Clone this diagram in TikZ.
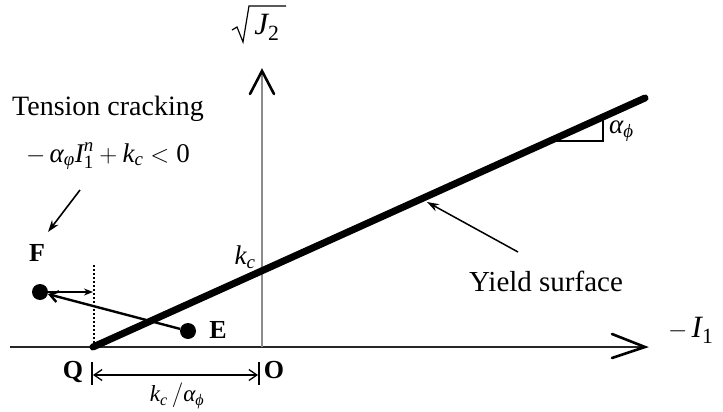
\documentclass[tikz,border=0pt]{standalone}
\usepackage{amsmath}
\usepackage{fontspec}
\setmainfont{Liberation Serif}
\usetikzlibrary{arrows.meta}
\newcommand{\iv}[1]{\text{\itshape #1}}
\begin{document}
\begin{tikzpicture}[x=1pt,y=-1pt,
  lbl/.style={font=\fontsize{27}{31}\selectfont, inner sep=0pt},
  bl/.style={font=\fontsize{26}{30}\selectfont\bfseries, inner sep=0pt},
  chev/.style={line width=2.6pt, line cap=round, line join=miter},
  dot/.style={circle, fill=black, inner sep=0pt, minimum size=16pt},
  axisline/.style={line width=1.3pt, black!85}]
\useasboundingbox (0,0) rectangle (723,412);
% axes
\coordinate (hs) at (10,347);
\coordinate (he) at (645,347);
\coordinate (vs) at (262,347);
\coordinate (ve) at (262,71);
\draw[axisline] (hs) -- (he);
\draw[line width=1.3pt, black!45] (vs) -- (ve);
\draw[chev] (612,334) -- (he) -- (612,358);
\draw[chev] (250,94) -- (ve) -- (274,94);
\node[lbl, font=\fontsize{31}{35}\selectfont] (yaxl) at (267,27) {$\iv{J}_{\text{2}}$};
\coordinate (r1) at (232,30);
\coordinate (r2) at (237,27);
\coordinate (r3) at (243,42);
\coordinate (r4) at (249,6);
\coordinate (r5) at (286,6);
\draw[line width=1.2pt, line join=miter] (r1) -- (r2) -- (r3) -- (r4) -- (r5);
\node[lbl, font=\fontsize{31}{35}\selectfont, anchor=west] (xaxl) at (668,330) {$-\,\iv{I}_{\text{1}}$};
% yield surface
\coordinate (Q) at (93,347);
\coordinate (Y) at (645,98);
\draw[line width=7pt, line cap=round] (Q) -- (Y);
\coordinate (t1) at (551,141);
\coordinate (t2) at (603,141);
\coordinate (t3) at (603,118);
\draw[line width=1.8pt] (t1) -- (t2) -- (t3);
\node[lbl, anchor=west] (alf) at (609,131) {$\iv{α}_{\iv{ϕ}}$};
\node[lbl] (kc) at (245,257) {$\iv{k}_{\iv{c}}$};
% yield label
\node[lbl, font=\fontsize{29}{33}\selectfont] (ys) at (546,281) {Yield surface};
\coordinate (yst) at (518,252);
\coordinate (ysh) at (427,202);
\draw[line width=1.5pt, -{Stealth[length=12pt,width=8pt]}] (yst) -- (ysh);
% tension cracking
\node[lbl, font=\fontsize{28}{32}\selectfont] (tc) at (108,109) {Tension cracking};
\node[lbl] (tf) at (108,156) {$-\,\iv{α}_{\iv{φ}}\iv{I}_{\text{1}}^{\iv{n}} + \iv{k}_{\iv{c}} < \text{0}$};
\coordinate (tct) at (80,190);
\coordinate (tch) at (48,232);
\draw[line width=1.6pt, -{Stealth[length=12pt,width=8pt]}] (tct) -- (tch);
% dotted line
\coordinate (dt) at (94,265);
\coordinate (db) at (94,345);
\draw[dotted, line width=2pt] (dt) -- (db);
% points
\node[dot] (F) at (40,292) {};
\node[dot] (E) at (188,331) {};
\node[bl] (Fl) at (37,253) {F};
\node[bl] (El) at (218,330) {E};
\coordinate (Fh) at (93,292);
\draw[line width=2pt, -{Stealth[length=9pt,width=7pt]}] (F) -- (Fh);
\draw[line width=2.4pt, -{Straight Barb[length=8pt,width=11pt]}] (E) -- (F);
% dimension
\node[bl] (Ql) at (73,372) {Q};
\node[bl] (Ol) at (274,370) {O};
\coordinate (q1) at (92,362);
\coordinate (q2) at (92,385);
\coordinate (o1) at (259,362);
\coordinate (o2) at (259,385);
\draw[line width=1.4pt] (q1) -- (q2);
\draw[line width=1.4pt] (o1) -- (o2);
\coordinate (d1) at (93,375);
\coordinate (d2) at (258,375);
\draw[line width=1.3pt, {Straight Barb[length=8pt,width=11pt]}-{Straight Barb[length=8pt,width=11pt]}] (d1) -- (d2);
\node[lbl, font=\fontsize{23}{27}\selectfont] (dl) at (177,396) {$\iv{k}_{\iv{c}}\,/\iv{α}_{\iv{ϕ}}$};
\end{tikzpicture}
\end{document}
